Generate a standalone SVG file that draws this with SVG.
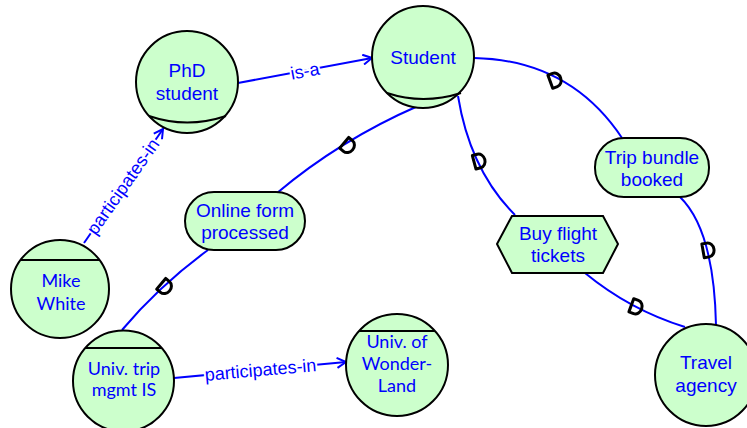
<svg xmlns="http://www.w3.org/2000/svg" width="747" height="428" viewBox="0 0 747 428">
<style>
.n{fill:#ccffcc;stroke:#000;stroke-width:2}
.t{font-family:"Liberation Sans",Arial,sans-serif;font-size:19px;fill:#0000ff;text-anchor:middle}
.c{font-family:Lato,"Liberation Sans",sans-serif;font-size:18px;fill:#0000ff;text-anchor:middle}
.e{fill:none;stroke:#0000ff;stroke-width:2}
.lb{font-family:"Liberation Sans",Arial,sans-serif;font-size:18px;fill:#0000ff;text-anchor:middle;stroke:#fff;stroke-width:4;paint-order:stroke}
.d{fill:none;stroke:#000;stroke-width:3;stroke-linejoin:round}
.ch{fill:none;stroke:#000;stroke-width:2}
</style>
<defs>
<marker id="ah" markerWidth="12" markerHeight="12" refX="10" refY="6" orient="auto" markerUnits="userSpaceOnUse">
<path d="M1,1 L10,6 L1,11" fill="none" stroke="#0000ff" stroke-width="2"/>
</marker>
<path id="dm" d="M-5,-7 L0,-7 A6,7 0 0 1 0,7 L-5,7 Z"/>
</defs>
<g id="connectors">
<path class="e" d="M474,58 Q570,60 622,138"/>
<path class="e" d="M458,96 Q470,170 515,215"/>
<path class="e" d="M418,106 Q340,140 277,193"/>
<path class="e" d="M208,250 Q160,285 122,330"/>
<path class="e" d="M680,197 Q714,230 716,325"/>
<path class="e" d="M585,273 Q630,310 685,327"/>
<path class="e" d="M238,83 L372,58" marker-end="url(#ah)"/>
<path class="e" d="M84,243 L163,129" marker-end="url(#ah)"/>
<path class="e" d="M174,378 L346,362" marker-end="url(#ah)"/>
<use href="#dm" class="d" transform="translate(555,80) rotate(-20)"/>
<use href="#dm" class="d" transform="translate(479,161) rotate(-15)"/>
<use href="#dm" class="d" transform="translate(348,146) rotate(40)"/>
<use href="#dm" class="d" transform="translate(165,287) rotate(40)"/>
<use href="#dm" class="d" transform="translate(708,250) rotate(-10)"/>
<use href="#dm" class="d" transform="translate(636,307) rotate(20)"/>
<text class="lb" transform="translate(306,77) rotate(-10.5)">is-a</text>
<text class="lb" transform="translate(128,190) rotate(-55)">participates-in</text>
<text class="lb" transform="translate(261,376) rotate(-5)">participates-in</text>
</g>
<g id="mike">
<circle class="n" cx="60" cy="289" r="49"/>
<line class="ch" x1="21" y1="260" x2="99" y2="260"/>
<text class="c" x="61" y="287">Mike</text>
<text class="c" x="61" y="310">White</text>
</g>
<g id="univtrip">
<circle class="n" cx="123.5" cy="381" r="50.5"/>
<line class="ch" x1="85" y1="348" x2="162" y2="348"/>
<text class="c" x="124" y="375">Univ. trip</text>
<text class="c" x="124" y="396">mgmt IS</text>
</g>
<g id="phd">
<circle class="n" cx="187" cy="82" r="51"/>
<path class="ch" d="M149,116 Q187,129 226,116"/>
<text class="t" x="187" y="77">PhD</text>
<text class="t" x="187" y="100">student</text>
</g>
<g id="student">
<circle class="n" cx="423" cy="57" r="51"/>
<path class="ch" d="M387,93 Q423,105 461,93"/>
<text class="t" x="423" y="64">Student</text>
</g>
<g id="online">
<rect class="n" x="185" y="192" width="120" height="58" rx="29"/>
<text class="t" x="245" y="217">Online form</text>
<text class="t" x="245" y="239">processed</text>
</g>
<g id="buyflight">
<polygon class="n" points="497,244 512,216 603,216 618,244 603,273 512,273"/>
<text class="t" x="558" y="240">Buy flight</text>
<text class="t" x="558" y="262">tickets</text>
</g>
<g id="tripbundle">
<rect class="n" x="595" y="138" width="114" height="59" rx="29"/>
<text class="t" x="652" y="164">Trip bundle</text>
<text class="t" x="652" y="186">booked</text>
</g>
<g id="wonderland">
<circle class="n" cx="397" cy="365" r="51"/>
<line class="ch" x1="359" y1="331" x2="435" y2="331"/>
<text class="c" x="397" y="348">Univ. of</text>
<text class="c" x="397" y="370">Wonder-</text>
<text class="c" x="397" y="392">Land</text>
</g>
<g id="travel">
<circle class="n" cx="706" cy="375" r="51"/>
<text class="t" x="706" y="369">Travel</text>
<text class="t" x="706" y="392">agency</text>
</g>
</svg>
